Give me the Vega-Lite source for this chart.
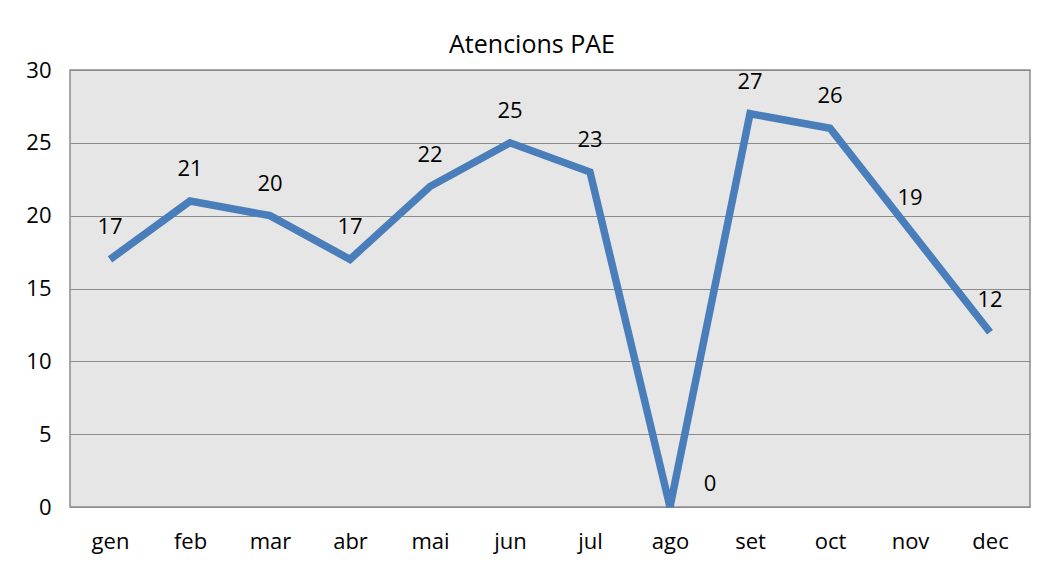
{
  "$schema": "https://vega.github.io/schema/vega-lite/v6.json",
  "width": 960,
  "height": 437,
  "autosize": "none",
  "padding": {"left": 70, "top": 70, "right": 19, "bottom": 56},
  "background": "white",
  "config": {
    "font": "Open Sans",
    "view": {"fill": "#e6e6e6", "stroke": "#8c8c8c", "strokeWidth": 1.5}
  },
  "title": {"text": "Atencions PAE", "fontSize": 25, "fontWeight": "normal", "color": "#000000", "offset": 1, "dx": -18, "font": "Open Sans"},
  "data": {"values": [
    {"mes": "gen", "valor": 17},
    {"mes": "feb", "valor": 21},
    {"mes": "mar", "valor": 20},
    {"mes": "abr", "valor": 17},
    {"mes": "mai", "valor": 22},
    {"mes": "jun", "valor": 25},
    {"mes": "jul", "valor": 23},
    {"mes": "ago", "valor": 0},
    {"mes": "set", "valor": 27},
    {"mes": "oct", "valor": 26},
    {"mes": "nov", "valor": 19},
    {"mes": "dec", "valor": 12}
  ]},
  "encoding": {
    "x": {"field": "mes", "type": "ordinal", "sort": null,
      "scale": {"type": "point", "padding": 0.5},
      "axis": {"title": null, "labelAngle": 0, "labelFontSize": 22, "labelColor": "#000000", "labelPadding": 24, "ticks": false, "domain": false, "grid": false}},
    "y": {"field": "valor", "type": "quantitative",
      "scale": {"domain": [0, 30], "nice": false},
      "axis": {"title": null, "values": [0, 5, 10, 15, 20, 25, 30], "labelFontSize": 22, "labelColor": "#000000", "labelPadding": 19, "ticks": false, "domain": false, "grid": true, "gridColor": "#8c8c8c", "gridWidth": 1.2}}
  },
  "layer": [
    {"mark": {"type": "line", "color": "#4a7ebb", "strokeWidth": 7.5, "strokeJoin": "miter", "strokeCap": "butt"}},
    {"transform": [{"filter": "datum.valor > 0"}],
     "mark": {"type": "text", "dy": -32, "fontSize": 22, "color": "#000000"},
     "encoding": {"text": {"field": "valor", "type": "quantitative"}}},
    {"transform": [{"filter": "datum.valor == 0"}],
     "mark": {"type": "text", "dx": 40, "dy": -23, "fontSize": 22, "color": "#000000"},
     "encoding": {"text": {"field": "valor", "type": "quantitative"}}}
  ]
}
